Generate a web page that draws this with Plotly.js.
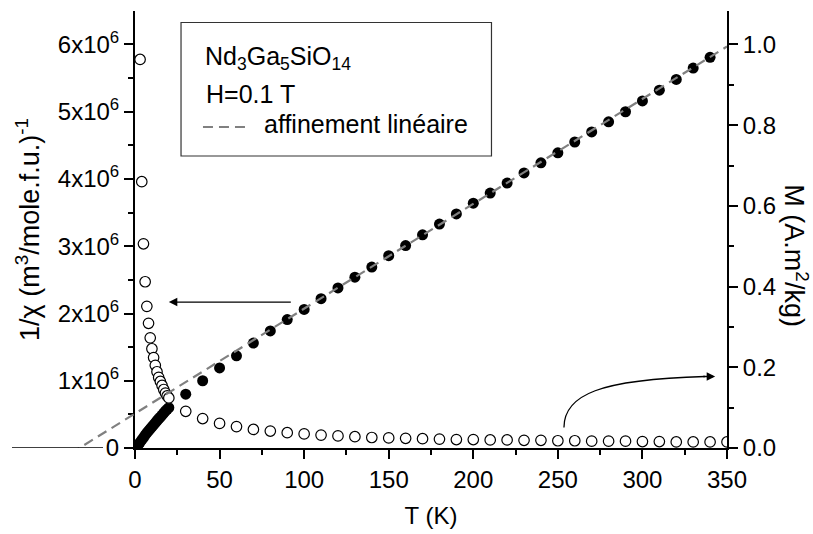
<!DOCTYPE html>
<html>
<head>
<meta charset="utf-8">
<script src="https://cdn.plot.ly/plotly-3.0.1.min.js"></script>
<style>html,body{margin:0;padding:0;background:#fff;}#chart{width:813px;height:534px;}</style>
</head>
<body>
<div id="chart"></div>
<script>
// ---- data ----
// 1/chi (units of 10^6 m^3/mole.f.u.)^-1 ; filled circles, left axis
const T_inv = [2,3,4,5,6,7,8,9,10,11,12,13,14,15,16,17,18,19,20,
  30,40,50,60,70,80,90,100,110,120,130,140,150,160,170,180,190,200,
  210,220,230,240,250,260,270,280,290,300,310,320,330,340];
const invChi = [0.05,0.085,0.12,0.155,0.19,0.225,0.255,0.285,0.315,0.345,0.375,0.405,0.435,0.46,0.49,0.52,0.55,0.575,0.60,
  0.80,1.00,1.19,1.37,1.56,1.74,1.91,2.06,2.22,2.38,2.54,2.69,2.86,3.01,3.17,3.33,3.48,3.64,
  3.79,3.94,4.09,4.24,4.39,4.55,4.70,4.85,5.00,5.16,5.32,5.48,5.65,5.81];
// M (A.m^2/kg) ; open circles, right axis
const T_M = [3,4,5,6,7,8,9,10,11,12,13,14,15,16,17,18,19,20,
  30,40,50,60,70,80,90,100,110,120,130,140,150,160,170,180,190,200,
  210,220,230,240,250,260,270,280,290,300,310,320,330,340,350];
const M = [0.963,0.660,0.506,0.412,0.351,0.309,0.273,0.246,0.224,0.205,0.189,0.175,0.165,0.155,0.145,0.136,0.129,0.124,
  0.091,0.073,0.061,0.053,0.046,0.042,0.038,0.035,0.032,0.030,0.028,0.026,0.025,0.024,0.023,0.022,0.021,0.021,
  0.020,0.020,0.019,0.019,0.018,0.018,0.017,0.017,0.017,0.016,0.016,0.015,0.015,0.015,0.015];
// linear fit of 1/chi (end points)
const fitT = [-38, 350];
const fitVal = [-0.08, 5.97];
// tick labels
const xTicks = [0,50,100,150,200,250,300,350];
const yTicks = [0,1,2,3,4,5,6];
const yTickText = ['0','1x10<sup>6</sup>','2x10<sup>6</sup>','3x10<sup>6</sup>','4x10<sup>6</sup>','5x10<sup>6</sup>','6x10<sup>6</sup>'];
const y2Ticks = [0,0.2,0.4,0.6,0.8,1.0];
const legendLines = ['Nd<sub>3</sub>Ga<sub>5</sub>SiO<sub>14</sub>','H=0.1 T','affinement linéaire'];

const FONT = 'Liberation Sans, Arial, sans-serif';
const TICKFONT = {family:FONT, size:24, color:'#000'};
const traces = [
  {x:T_inv, y:invChi, xaxis:'x', yaxis:'y', type:'scatter', mode:'markers',
   marker:{symbol:'circle', size:11, color:'#000', line:{width:0}}, showlegend:false},
  {x:T_M, y:M, xaxis:'x', yaxis:'y2', type:'scatter', mode:'markers',
   marker:{symbol:'circle', size:10.5, color:'#fff', line:{width:1.2, color:'#000'}}, showlegend:false},
  {x:fitT, y:fitVal, xaxis:'x2', yaxis:'y', type:'scatter', mode:'lines',
   line:{color:'#808080', width:2.2, dash:'10px,6px'}, showlegend:false}
];

const layout = {
  width:813, height:534,
  margin:{l:12, r:86, t:11, b:86},
  paper_bgcolor:'#fff', plot_bgcolor:'rgba(0,0,0,0)',
  font:{family:FONT, size:24, color:'#000'},
  showlegend:false,
  xaxis:{domain:[0.17203,1], range:[0,350], anchor:'y',
    tickvals:xTicks, ticks:'outside', ticklen:9, tickwidth:2, tickcolor:'#000', tickfont:TICKFONT,
    showline:true, linewidth:2, linecolor:'#000', showgrid:false, zeroline:false,
    minor:{tickvals:[25,75,125,175,225,275,325], ticks:'outside', ticklen:5, tickwidth:2, tickcolor:'#000'},
    title:{text:'T (K)', standoff:15, font:{family:FONT, size:24, color:'#000'}}},
  xaxis2:{domain:[0,1], range:[-72.72,350], anchor:'y', visible:false, showgrid:false, zeroline:false},
  yaxis:{range:[0,6.498], anchor:'x',
    tickvals:yTicks, ticktext:yTickText, ticks:'outside', ticklen:9, tickwidth:2, tickcolor:'#000', tickfont:TICKFONT,
    showline:true, linewidth:2, linecolor:'#000', showgrid:false, zeroline:false,
    minor:{tickvals:[0.5,1.5,2.5,3.5,4.5,5.5,6.5], ticks:'outside', ticklen:5, tickwidth:2, tickcolor:'#000'},
    title:{text:'1/χ (m<sup>3</sup>/mole.f.u.)<sup>-1</sup>', standoff:10, font:{family:FONT, size:27, color:'#000'}}},
  yaxis2:{range:[0,1.083], overlaying:'y', side:'right', anchor:'x',
    tickvals:y2Ticks, tickformat:'.1f', ticks:'outside', ticklen:9, tickwidth:2, tickcolor:'#000', tickfont:TICKFONT,
    showline:true, linewidth:2, linecolor:'#000', showgrid:false, zeroline:false,
    minor:{tickvals:[0.1,0.3,0.5,0.7,0.9], ticks:'outside', ticklen:5, tickwidth:2, tickcolor:'#000'}},
  shapes:[
    // left baseline segment
    {type:'line', xref:'paper', yref:'y', x0:0, x1:0.1273, y0:0, y1:0, line:{color:'#000', width:1.5}},
    // legend box
    {type:'rect', xref:'paper', yref:'paper', x0:0.2364, x1:0.6706, y0:0.6682, y1:0.9737, line:{color:'#333', width:1.2}, fillcolor:'rgba(0,0,0,0)'},
    // legend dash sample
    {type:'line', xref:'paper', yref:'paper', x0:0.2671, x1:0.3301, y0:0.7346, y1:0.7346, line:{color:'#808080', width:2.2, dash:'10px,6px'}},
    // curved arrow body
    {type:'path', xref:'x', yref:'y2', path:'M253.6,0.0508 C253.6,0.1326 275.0,0.1698 337,0.1772', line:{color:'#000', width:1.3}}
  ],
  annotations:[
    {xref:'x', yref:'y', x:20, y:2.17, axref:'x', ayref:'y', ax:93, ay:2.17, text:'', showarrow:true,
     arrowhead:2, arrowsize:1.3, arrowwidth:1.3, arrowcolor:'#000'},
    {xref:'x', yref:'y2', x:343, y:0.1772, axref:'x', ayref:'y2', ax:335, ay:0.1772, text:'', showarrow:true,
     arrowhead:2, arrowsize:1.3, arrowwidth:1.3, arrowcolor:'#000'},
    {xref:'paper', yref:'paper', x:1.097, y:0.44, text:'M (A.m<sup>2</sup>/kg)', textangle:90, showarrow:false,
     xanchor:'center', yanchor:'middle', font:{family:FONT, size:27, color:'#000'}},
    {xref:'paper', yref:'paper', x:0.2671, y:0.893, text:legendLines[0], showarrow:false, xanchor:'left', yanchor:'middle', font:{family:FONT, size:25, color:'#000'}},
    {xref:'paper', yref:'paper', x:0.2685, y:0.810, text:legendLines[1], showarrow:false, xanchor:'left', yanchor:'middle', font:{family:FONT, size:25, color:'#000'}},
    {xref:'paper', yref:'paper', x:0.3497, y:0.741, text:legendLines[2], showarrow:false, xanchor:'left', yanchor:'middle', font:{family:FONT, size:25, color:'#000'}}
  ]
};
Plotly.newPlot('chart', traces, layout, {displayModeBar:false, staticPlot:true});
</script>
</body>
</html>
